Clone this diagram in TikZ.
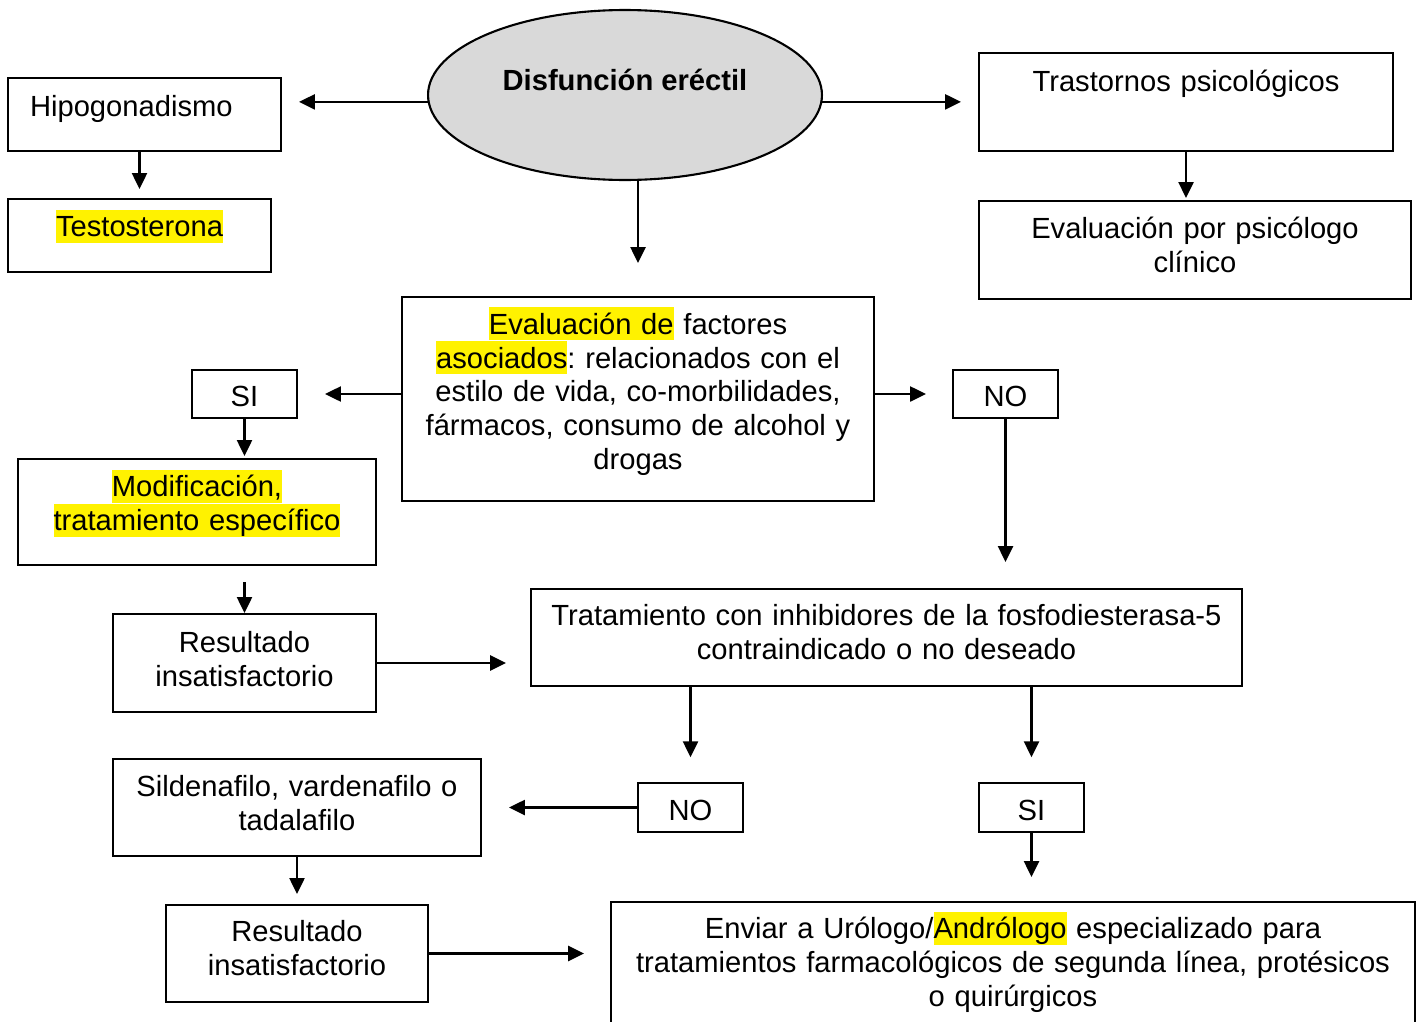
\documentclass[tikz,border=0pt]{standalone}
\usepackage{fontspec}
\setmainfont{Liberation Sans}
\usetikzlibrary{shapes.geometric, arrows.meta, positioning}
\frenchspacing

\definecolor{ovalgray}{HTML}{D9D9D9}
\newcommand{\resaltar}[1]{{\setlength{\fboxsep}{0pt}\colorbox{yellow}{\vrule height 15.2pt depth 3.6pt width 0pt #1}}}

\begin{document}
\begin{tikzpicture}[x=0.02cm, y=-0.02cm,
    every node/.style={font=\fontsize{16.6}{19.35}\selectfont, inner sep=0pt},
    box/.style={draw, line width=1.2pt, align=center},
    answer/.style={box, minimum width=2.1cm, minimum height=0.97cm, text width=1.7cm},
    fb/.code={\pgfmathsetlengthmacro\fbdp{max(0,2*(#1))*0.02cm}%
              \pgfmathsetlengthmacro\fbht{max(0,-2*(#1))*0.02cm}%
              \tikzset{text height/.expanded=\fbht, text depth/.expanded=\fbdp}},
    arr/.style={line width=1.3pt, -{Triangle[length=9pt,width=8.5pt]}}]

\useasboundingbox (0,0) rectangle (1423,1021);
\clip (0,0) rectangle (1423,1021);

% Oval on top
\node[draw, ellipse, fill=ovalgray, line width=1.2pt, minimum width=7.88cm, minimum height=3.4cm,
      font=\fontsize{16.6}{19.35}\selectfont\bfseries, fb=5] (ovalo) at (625,95) {Disfunción eréctil};

% Left and right branches
\node[box, minimum width=5.46cm, minimum height=1.46cm, text width=4.58cm, align=left, fb=-1.5] (hipo) at (144.5,114.5) {Hipogonadismo};
\node[box, minimum width=5.26cm, minimum height=1.46cm, text width=4.86cm, fb=-1.2] (testo) at (139.5,235.5) {\resaltar{Testosterona}};
\node[box, minimum width=8.28cm, minimum height=1.96cm, text width=7.88cm, fb=10.3] (trast) at (1186,102) {Trastornos psicológicos};
\node[box, minimum width=8.64cm, minimum height=1.96cm, text width=8.24cm, fb=11.7] (psico) at (1195,250) {Evaluación por psicólogo\\clínico};

% Associated factors
\node[box, minimum width=9.44cm, minimum height=4.08cm, text width=9.04cm, fb=65] (fact) at (638,399)
    {\resaltar{Evaluación de} factores\\\resaltar{asociados}: relacionados con el\\estilo de vida, co-morbilidades,\\fármacos, consumo de alcohol y\\drogas};

% SI / NO boxes
\foreach \name/\x/\y/\txt in {si1/244.5/394/SI, no1/1005.5/394/NO, no2/690.5/807.5/NO, si2/1031.5/807.5/SI}
{
    \node[answer, fb=-12.5] (\name) at (\x,\y) {\txt};
}

\node[box, minimum width=7.16cm, minimum height=2.12cm, text width=6.76cm, fb=15.3] (modif) at (197,512) {\resaltar{Modificación,}\\\resaltar{tratamiento específico}};
\node[box, minimum width=5.26cm, minimum height=1.96cm, text width=4.86cm, fb=10.3] (res1) at (244.5,663) {Resultado\\insatisfactorio};
\node[box, minimum width=14.22cm, minimum height=1.94cm, text width=13.82cm, fb=12.5] (trat) at (886.5,637.5) {Tratamiento con inhibidores de la fosfodiesterasa-5\\contraindicado o no deseado};
\node[box, minimum width=7.36cm, minimum height=1.94cm, text width=6.96cm, fb=10.8] (sild) at (297,807.5) {Sildenafilo, vardenafilo o\\tadalafilo};
\node[box, minimum width=5.24cm, minimum height=1.94cm, text width=4.84cm, fb=11.8] (res2) at (297,953.5) {Resultado\\insatisfactorio};
\node[box, minimum width=16.08cm, minimum height=2.56cm, text width=15.68cm, fb=27.7] (env) at (1013,966)
    {Enviar a Urólogo/\resaltar{Andrólogo} especializado para\\tratamientos farmacológicos de segunda línea, protésicos\\o quirúrgicos};

% Arrows
\draw[arr, shorten >=0.34cm] (ovalo.182) -- (ovalo.182 -| hipo.east);
\draw[arr, shorten >=0.34cm] (ovalo.358) -- (ovalo.358 -| trast.west);
\draw[arr, shorten >=0.18cm] (hipo.south -| testo.north) -- (testo.north);
\draw[arr, shorten >=0.66cm] (fact.north |- ovalo.south) -- (fact.north);
\draw[arr, shorten >=0.04cm] (trast.south) -- (trast.south |- psico.north);
\draw[arr, shorten >=0.54cm] (fact.west |- si1.east) -- (si1.east);
\draw[arr, shorten >=0.52cm] (fact.east |- no1.west) -- (no1.west);
\draw[arr, shorten >=0.04cm] (si1.south) -- (si1.south |- modif.north);
\draw[arr, shorten <=0.32cm] (res1.north |- modif.south) -- (res1.north);
\draw[arr, shorten >=0.48cm] (res1.east) -- (res1.east -| trat.west);
\draw[arr, shorten >=0.52cm] (no1.south) -- (no1.south |- trat.north);
\draw[arr, shorten >=0.5cm] (no2.north |- trat.south) -- (no2.north);
\draw[arr, shorten >=0.5cm] (si2.north |- trat.south) -- (si2.north);
\draw[arr, shorten >=0.54cm] (no2.west) -- (no2.west -| sild.east);
\draw[arr, shorten >=0.2cm] (sild.south) -- (res2.north);
\draw[arr, shorten >=0.52cm] (res2.east) -- (res2.east -| env.west);
\draw[arr, shorten >=0.48cm] (si2.south) -- (si2.south |- env.north);

\end{tikzpicture}
\end{document}
